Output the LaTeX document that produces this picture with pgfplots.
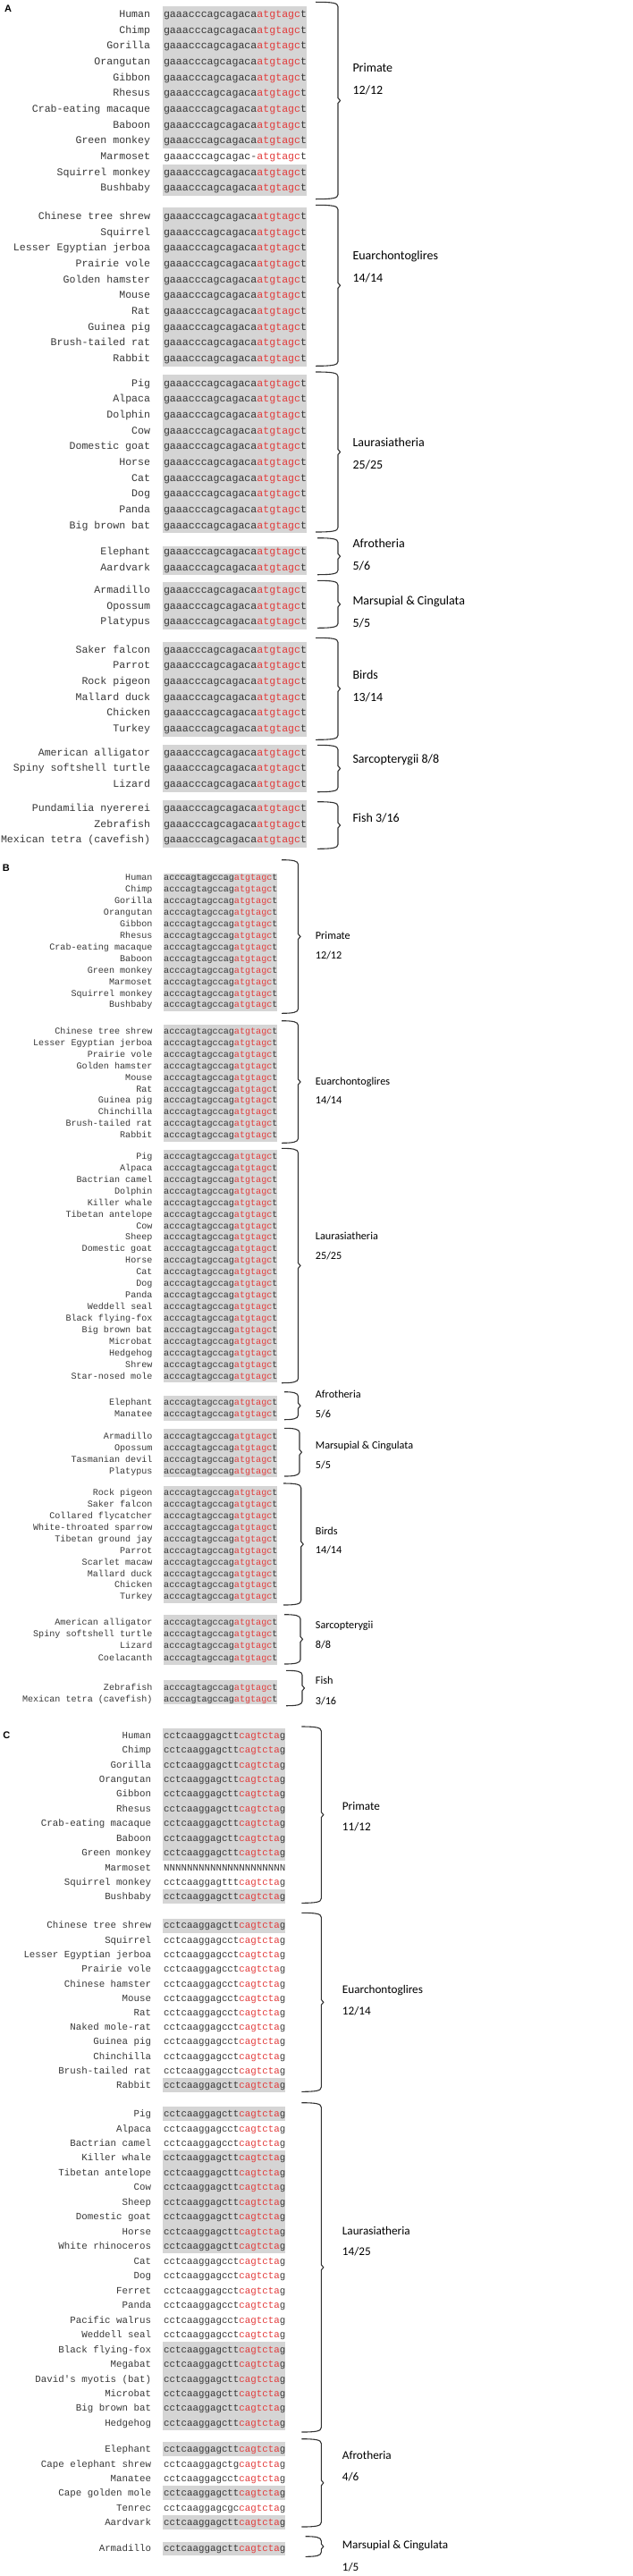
\documentclass[border=0pt]{standalone}
\usepackage{pgfplots}
\pgfplotsset{compat=1.18}
\usepackage{fontspec}
\setmonofont{Liberation Mono}
\newfontfamily\calib{Carlito}
\newfontfamily\arialb{Liberation Sans}[BoldFont={Liberation Sans Bold}]
\definecolor{txt}{RGB}{55,55,55}
\definecolor{sred}{RGB}{226,60,60}
\definecolor{boxgray}{RGB}{213,213,213}
\definecolor{brcol}{RGB}{50,50,50}
\newcommand\fA{\ttfamily\fontsize{11.6bp}{13bp}\selectfont}
\newcommand\fB{\ttfamily\fontsize{10.1bp}{12bp}\selectfont}
\newcommand\fC{\ttfamily\fontsize{10.8bp}{12bp}\selectfont}
\tikzset{lab/.style={anchor=base east,inner sep=0pt,text=txt},
         sq/.style={anchor=base west,inner sep=0pt,text=txt},
         brc/.style={draw=brcol,line width=1.1bp}}
% row macros: y, name, black part, red part, last letter
\newcommand\RA[5]{\node[lab,font=\fA] at (axis cs:168.3,{#1+3.5}) {#2};\node[sq,font=\fA] at (axis cs:182.8,{#1+3.5}) {#3\textcolor{sred}{#4}#5};}
\newcommand\RB[5]{\node[lab,font=\fB] at (axis cs:170.7,{#1+3.0}) {#2};\node[sq,font=\fB] at (axis cs:183,{#1+3.0}) {#3\textcolor{sred}{#4}#5};}
\newcommand\RC[5]{\node[lab,font=\fC] at (axis cs:169.3,{#1+3.2}) {#2};\node[sq,font=\fC] at (axis cs:183,{#1+3.2}) {#3\textcolor{sred}{#4}#5};}
\newcommand\PA[2]{\RA{#1}{#2}{gaaacccagcagaca}{atgtagc}{t}}
\newcommand\PB[2]{\RB{#1}{#2}{acccagtagccag}{atgtagc}{t}}
\newcommand\PC[3]{\RC{#1}{#2}{cctcaaggag#3}{cagtcta}{g}}
\newcommand\gbox[4]{\addplot[draw=none,fill=boxgray] coordinates {(#1,#3) (#2,#3) (#2,#4) (#1,#4)};}
\newcommand\brc[4]{\draw[brc] (axis cs:#1,#3) .. controls (axis cs:{#2-6},#3) and (axis cs:#2,{#3+1}) .. (axis cs:#2,{#3+5}) -- (axis cs:#2,{(#3+#4)/2-3}) -- (axis cs:{#2+2.5},{(#3+#4)/2}) -- (axis cs:#2,{(#3+#4)/2+3}) -- (axis cs:#2,{#4-5}) .. controls (axis cs:#2,{#4-1}) and (axis cs:{#2-6},#4) .. (axis cs:#1,#4);}
\newcommand\GL[4]{\node[anchor=base west,inner sep=0pt,text=black,font={\calib\fontsize{#3bp}{#3bp}\selectfont}] at (axis cs:#1,{#2+0.32*#3}) {#4};}
\begin{document}
\begin{tikzpicture}
\begin{axis}[width=708bp,height=2881bp,scale only axis,xmin=0,xmax=708,ymin=0,ymax=2881,
  y dir=reverse,hide axis,clip=false]
\addplot[draw=none] coordinates {(0,0) (708,2881)};
% ---------- grey boxes, panel A
\gbox{182.3}{343}{6.7}{165.7}
\gbox{182.3}{343}{184.3}{219}
\gbox{182.3}{343}{232.3}{409.7}
\gbox{182.3}{343}{419.3}{595.7}
\gbox{182.3}{343}{610.7}{643.3}
\gbox{182.3}{343}{651}{704}
\gbox{182.3}{343}{718}{824}
\gbox{182.3}{343}{832.7}{885.7}
\gbox{182.3}{343}{895}{948.3}
% panel B
\gbox{182.7}{310}{976.7}{1130.7}
\gbox{182.7}{310}{1145.7}{1277}
\gbox{182.7}{310}{1285.7}{1545.7}
\gbox{182.7}{310}{1560.7}{1589}
\gbox{182.7}{310}{1598.3}{1652}
\gbox{182.7}{310}{1661.7}{1793.3}
\gbox{182.7}{310}{1806}{1861.7}
\gbox{182.7}{310}{1879.3}{1905.7}
% panel C
\gbox{182.3}{319.3}{1932.7}{2080.7}
\gbox{182.3}{319.3}{2113.3}{2129}
\gbox{182.3}{319.3}{2145.7}{2161.7}
\gbox{182.3}{319.3}{2324}{2340}
\gbox{182.3}{319.3}{2356}{2372}
\gbox{182.3}{319.3}{2405.3}{2520}
\gbox{182.3}{319.3}{2619.3}{2717.7}
\gbox{182.3}{319.3}{2731}{2746.7}
\gbox{182.3}{319.3}{2780}{2796}
\gbox{182.3}{319.3}{2812.7}{2828.7}
\gbox{182.3}{319.3}{2842.7}{2858.3}
% ---------- panel letters
\node[anchor=base west,inner sep=0pt,font={\arialb\bfseries\fontsize{11bp}{12bp}\selectfont}] at (axis cs:5,14) {A};
\node[anchor=base west,inner sep=0pt,font={\arialb\bfseries\fontsize{11bp}{12bp}\selectfont}] at (axis cs:2.7,974) {B};
\node[anchor=base west,inner sep=0pt,font={\arialb\bfseries\fontsize{11bp}{12bp}\selectfont}] at (axis cs:3.3,1944.7) {C};
% ---------- panel A rows
\PA{16}{Human}
\PA{33.65}{Chimp}
\PA{51.3}{Gorilla}
\PA{68.95}{Orangutan}
\PA{86.6}{Gibbon}
\PA{104.25}{Rhesus}
\PA{121.9}{Crab-eating macaque}
\PA{139.55}{Baboon}
\PA{157.2}{Green monkey}
\RA{174.85}{Marmoset}{gaaacccagcagac-}{atgtagc}{t}
\PA{192.5}{Squirrel monkey}
\PA{210.15}{Bushbaby}
\PA{242}{Chinese tree shrew}
\PA{259.65}{Squirrel}
\PA{277.3}{Lesser Egyptian jerboa}
\PA{294.95}{Prairie vole}
\PA{312.6}{Golden hamster}
\PA{330.25}{Mouse}
\PA{347.9}{Rat}
\PA{365.55}{Guinea pig}
\PA{383.2}{Brush-tailed rat}
\PA{400.85}{Rabbit}
\PA{428.7}{Pig}
\PA{446.35}{Alpaca}
\PA{464}{Dolphin}
\PA{481.65}{Cow}
\PA{499.3}{Domestic goat}
\PA{516.95}{Horse}
\PA{534.6}{Cat}
\PA{552.25}{Dog}
\PA{569.9}{Panda}
\PA{587.55}{Big brown bat}
\PA{617.3}{Elephant}
\PA{635}{Aardvark}
\PA{660}{Armadillo}
\PA{677.7}{Opossum}
\PA{695.4}{Platypus}
\PA{726.7}{Saker falcon}
\PA{744.35}{Parrot}
\PA{762}{Rock pigeon}
\PA{779.65}{Mallard duck}
\PA{797.3}{Chicken}
\PA{814.95}{Turkey}
\PA{841.7}{American alligator}
\PA{859.3}{Spiny softshell turtle}
\PA{876.9}{Lizard}
\PA{904}{Pundamilia nyererei}
\PA{921.65}{Zebrafish}
\PA{939.3}{Mexican tetra (cavefish)}
% braces A
\brc{353}{378}{2.3}{222.7}
\brc{353}{378}{229.3}{409.3}
\brc{353}{378}{416}{595}
\brc{355}{378}{601.7}{642.7}
\brc{355}{378}{649.3}{702.3}
\brc{353}{378}{713.3}{827.3}
\brc{355}{378}{833.3}{885.7}
\brc{355}{378}{896.7}{949.3}
% labels A
\GL{394.3}{76}{14}{Primate}
\GL{394.3}{100.7}{14}{12/12}
\GL{394.3}{286}{14}{Euarchontoglires}
\GL{394.3}{310.7}{14}{14/14}
\GL{394.3}{495}{14}{Laurasiatheria}
\GL{394.3}{520}{14}{25/25}
\GL{394.3}{607.7}{14}{Afrotheria}
\GL{394.3}{632.7}{14}{5/6}
\GL{394.3}{671.7}{14}{Marsupial \& Cingulata}
\GL{394.3}{696.7}{14}{5/5}
\GL{394.3}{755}{14}{Birds}
\GL{394.3}{780}{14}{13/14}
\GL{394.3}{849}{14}{Sarcopterygii 8/8}
\GL{394.3}{915}{14}{Fish 3/16}
% ---------- panel B rows
\PB{981.7}{Human}
\PB{994.6}{Chimp}
\PB{1007.6}{Gorilla}
\PB{1020.5}{Orangutan}
\PB{1033.4}{Gibbon}
\PB{1046.3}{Rhesus}
\PB{1059.3}{Crab-eating macaque}
\PB{1072.2}{Baboon}
\PB{1085.1}{Green monkey}
\PB{1098.1}{Marmoset}
\PB{1111}{Squirrel monkey}
\PB{1123.9}{Bushbaby}
\PB{1153.3}{Chinese tree shrew}
\PB{1166.2}{Lesser Egyptian jerboa}
\PB{1179.2}{Prairie vole}
\PB{1192.1}{Golden hamster}
\PB{1205}{Mouse}
\PB{1218}{Rat}
\PB{1230.9}{Guinea pig}
\PB{1243.8}{Chinchilla}
\PB{1256.7}{Brush-tailed rat}
\PB{1269.7}{Rabbit}
\PB{1293.3}{Pig}
\PB{1306.25}{Alpaca}
\PB{1319.2}{Bactrian camel}
\PB{1332.15}{Dolphin}
\PB{1345.1}{Killer whale}
\PB{1358.05}{Tibetan antelope}
\PB{1371}{Cow}
\PB{1383.95}{Sheep}
\PB{1396.9}{Domestic goat}
\PB{1409.85}{Horse}
\PB{1422.8}{Cat}
\PB{1435.75}{Dog}
\PB{1448.7}{Panda}
\PB{1461.65}{Weddell seal}
\PB{1474.6}{Black flying-fox}
\PB{1487.55}{Big brown bat}
\PB{1500.5}{Microbat}
\PB{1513.45}{Hedgehog}
\PB{1526.4}{Shrew}
\PB{1539.35}{Star-nosed mole}
\PB{1568.7}{Elephant}
\PB{1581.7}{Manatee}
\PB{1606.3}{Armadillo}
\PB{1619.3}{Opossum}
\PB{1632.3}{Tasmanian devil}
\PB{1645.2}{Platypus}
\PB{1669.3}{Rock pigeon}
\PB{1682.3}{Saker falcon}
\PB{1695.2}{Collared flycatcher}
\PB{1708.2}{White-throated sparrow}
\PB{1721.1}{Tibetan ground jay}
\PB{1734.1}{Parrot}
\PB{1747}{Scarlet macaw}
\PB{1760}{Mallard duck}
\PB{1772.9}{Chicken}
\PB{1785.9}{Turkey}
\PB{1814}{American alligator}
\PB{1827}{Spiny softshell turtle}
\PB{1840}{Lizard}
\PB{1854}{Coelacanth}
\PB{1887.3}{Zebrafish}
\PB{1900}{Mexican tetra (cavefish)}
% braces B
\brc{315}{333.5}{961.7}{1133.3}
\brc{315}{333.5}{1141.7}{1278.3}
\brc{315}{333.5}{1284.3}{1546.7}
\brc{318}{333.5}{1556.7}{1587.7}
\brc{318}{335}{1597.3}{1651}
\brc{317}{336.7}{1659}{1795}
\brc{318}{336}{1805.7}{1861}
\brc{320}{338}{1868.3}{1907.7}
% labels B
\GL{352.7}{1046.7}{12.2}{Primate}
\GL{352.7}{1069}{12.2}{12/12}
\GL{352.7}{1209.3}{12.2}{Euarchontoglires}
\GL{352.7}{1231}{12.2}{14/14}
\GL{352.7}{1382.3}{12.2}{Laurasiatheria}
\GL{352.7}{1404.3}{12.2}{25/25}
\GL{352.7}{1559.3}{12.2}{Afrotheria}
\GL{352.7}{1581.7}{12.2}{5/6}
\GL{352.7}{1616.7}{12.2}{Marsupial \& Cingulata}
\GL{352.7}{1638.7}{12.2}{5/5}
\GL{352.7}{1712.3}{12.2}{Birds}
\GL{352.7}{1734}{12.2}{14/14}
\GL{352.7}{1817.7}{12.2}{Sarcopterygii}
\GL{352.7}{1840}{12.2}{8/8}
\GL{352.7}{1880}{12.2}{Fish}
\GL{352.7}{1902.7}{12.2}{3/16}
% ---------- panel C rows
\PC{1941}{Human}{ctt}
\PC{1957.4}{Chimp}{ctt}
\PC{1973.8}{Gorilla}{ctt}
\PC{1990.2}{Orangutan}{ctt}
\PC{2006.6}{Gibbon}{ctt}
\PC{2023}{Rhesus}{ctt}
\PC{2039.4}{Crab-eating macaque}{ctt}
\PC{2055.8}{Baboon}{ctt}
\PC{2072.2}{Green monkey}{ctt}
\RC{2089}{Marmoset}{NNNNNNNNNNNNNNNNNNNNN}{}{}
\PC{2105.3}{Squirrel monkey}{ttt}
\PC{2121.4}{Bushbaby}{ctt}
\PC{2153.7}{Chinese tree shrew}{ctt}
\PC{2170}{Squirrel}{cct}
\PC{2186.3}{Lesser Egyptian jerboa}{cct}
\PC{2202.6}{Prairie vole}{cct}
\PC{2218.9}{Chinese hamster}{cct}
\PC{2235.2}{Mouse}{cct}
\PC{2251.5}{Rat}{cct}
\PC{2267.4}{Naked mole-rat}{cct}
\PC{2283.6}{Guinea pig}{cct}
\PC{2299.9}{Chinchilla}{cct}
\PC{2316.1}{Brush-tailed rat}{cct}
\PC{2332.3}{Rabbit}{ctt}
\PC{2364.3}{Pig}{ctt}
\PC{2380.8}{Alpaca}{cct}
\PC{2397.2}{Bactrian camel}{cct}
\PC{2413.7}{Killer whale}{ctt}
\PC{2430.2}{Tibetan antelope}{ctt}
\PC{2446.7}{Cow}{ctt}
\PC{2463.1}{Sheep}{ctt}
\PC{2479.6}{Domestic goat}{ctt}
\PC{2496.1}{Horse}{ctt}
\PC{2512.5}{White rhinoceros}{ctt}
\PC{2529}{Cat}{cct}
\PC{2545.5}{Dog}{cct}
\PC{2561.9}{Ferret}{cct}
\PC{2578.4}{Panda}{cct}
\PC{2594.9}{Pacific walrus}{cct}
\PC{2611.4}{Weddell seal}{cct}
\PC{2627.8}{Black flying-fox}{ctt}
\PC{2644.3}{Megabat}{ctt}
\PC{2660.8}{David's myotis (bat)}{ctt}
\PC{2677.2}{Microbat}{ctt}
\PC{2693.7}{Big brown bat}{ctt}
\PC{2710.2}{Hedgehog}{ctt}
\PC{2739.3}{Elephant}{ctt}
\PC{2755.8}{Cape elephant shrew}{ctg}
\PC{2772.2}{Manatee}{cct}
\PC{2788.7}{Cape golden mole}{ctt}
\PC{2805.1}{Tenrec}{cgc}
\PC{2821.6}{Aardvark}{ctt}
\PC{2850.7}{Armadillo}{ctt}
% braces C
\brc{337.3}{359.3}{1931}{2128.3}
\brc{337.3}{359.3}{2139.3}{2339.3}
\brc{337.3}{359.3}{2351.7}{2720}
\brc{337.3}{359.3}{2727.7}{2826}
\brc{341.7}{359.3}{2836.7}{2859.3}
% labels C
\GL{382.7}{2020.7}{13.2}{Primate}
\GL{382.7}{2043.3}{13.2}{11/12}
\GL{382.7}{2225.7}{13.2}{Euarchontoglires}
\GL{382.7}{2249}{13.2}{12/14}
\GL{382.7}{2495}{13.2}{Laurasiatheria}
\GL{382.7}{2518.3}{13.2}{14/25}
\GL{382.7}{2746.7}{13.2}{Afrotheria}
\GL{382.7}{2770.7}{13.2}{4/6}
\GL{382.7}{2846.7}{13.2}{Marsupial \& Cingulata}
\GL{382.7}{2871}{13.2}{1/5}
\end{axis}
\end{tikzpicture}
\end{document}
